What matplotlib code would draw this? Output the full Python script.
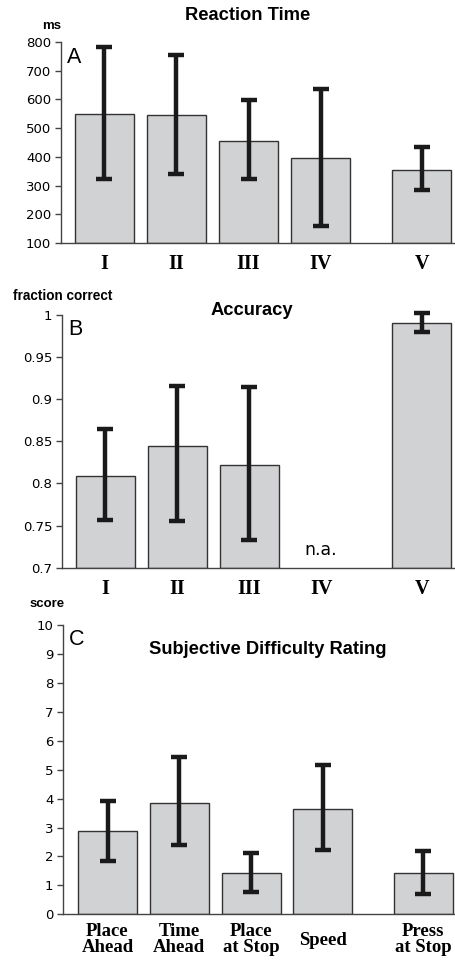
import matplotlib
matplotlib.use("Agg")
import matplotlib.pyplot as plt
import matplotlib.transforms as mtransforms
import numpy as np

# Panel A: Reaction Time
rt_labels = ["I", "II", "III", "IV", "V"]
rt_pos = [0, 1, 2, 3, 4.4]
rt_mean = [548, 545, 455, 397, 353]
rt_err_top = [782, 754, 598, 637, 433]
rt_err_bot = [322, 342, 322, 160, 283]

# Panel B: Accuracy (IV not available)
acc_labels = ["I", "II", "III", "IV", "V"]
acc_pos = [0, 1, 2, 4.4]
acc_tick_pos = [0, 1, 2, 3, 4.4]
acc_mean = [0.809, 0.845, 0.822, 0.990]
acc_err_top = [0.865, 0.916, 0.914, 1.002]
acc_err_bot = [0.757, 0.756, 0.733, 0.980]

# Panel C: Subjective Difficulty Rating
sd_labels = ["Place\nAhead", "Time\nAhead", "Place\nat Stop", "Speed", "Press\nat Stop"]
sd_pos = [0, 1, 2, 3, 4.4]
sd_mean = [2.88, 3.84, 1.44, 3.63, 1.44]
sd_err_top = [3.92, 5.42, 2.13, 5.15, 2.20]
sd_err_bot = [1.85, 2.38, 0.77, 2.21, 0.71]

W, H = 455, 960
fig = plt.figure(figsize=(W / 100, H / 100), dpi=100)

BAR = "#d1d2d4"
EDGE = "#333333"
serif = ["Liberation Serif", "DejaVu Serif"]
sans = ["Liberation Sans", "DejaVu Sans"]

def style(ax):
    ax.spines["top"].set_visible(False)
    ax.spines["right"].set_visible(False)
    ax.spines["left"].set_color("#444444")
    ax.spines["bottom"].set_color("#444444")
    ax.spines["left"].set_linewidth(1.0)
    ax.spines["bottom"].set_linewidth(1.0)
    ax.tick_params(axis="y", direction="out", length=4, width=1, labelsize=9.5, pad=3, color="#444444")
    ax.tick_params(axis="x", length=0, pad=8)
    for t in ax.get_yticklabels():
        t.set_family("DejaVu Sans")

def draw(ax, pos, mean, top, bot, bottom):
    mean = np.array(mean); top = np.array(top); bot = np.array(bot)
    heights = mean - bottom
    ax.bar(pos, heights, bottom=bottom, width=0.82, color=BAR, edgecolor=EDGE, linewidth=1.0, zorder=2)
    eb = ax.errorbar(pos, mean, yerr=[mean - bot, top - mean], fmt="none", ecolor="#1a1a1a",
                     elinewidth=3.2, capsize=6, capthick=3.2, zorder=3)
    for art in eb.lines[1] + eb.lines[2]:
        art.set_clip_on(False)

def px_axes(l, b, t):
    return fig.add_axes([l / W, 1 - b / H, 1 - l / W, (b - t) / H])

TFS = 13.2

# A
axA = px_axes(61, 243, 42)
draw(axA, rt_pos, rt_mean, rt_err_top, rt_err_bot, 100)
axA.set_ylim(100, 800)
axA.set_yticks(range(100, 801, 100))
axA.set_xlim(-0.6, 4.86)
axA.set_xticks(rt_pos)
axA.set_xticklabels(rt_labels, family=serif, fontsize=14.5, fontweight="bold")
style(axA)
axA.text(0.015, 0.975, "A", transform=axA.transAxes, fontsize=15.5, va="top", ha="left", family=sans)
fig.text(248 / W, 1 - 16 / H, "Reaction Time", ha="center", va="center", fontsize=TFS, fontweight="bold", family=sans)
fig.text(52 / W, 1 - 26 / H, "ms", ha="center", va="center", fontsize=9.5, fontweight="bold", family=sans)

# B
axB = px_axes(62, 567.7, 315)
draw(axB, acc_pos, acc_mean, acc_err_top, acc_err_bot, 0.7)
axB.set_ylim(0.7, 1.0)
axB.set_yticks([0.7, 0.75, 0.8, 0.85, 0.9, 0.95, 1.0])
axB.set_yticklabels(["0.7", "0.75", "0.8", "0.85", "0.9", "0.95", "1"])
axB.set_xlim(-0.6, 4.86)
axB.set_xticks(acc_tick_pos)
axB.set_xticklabels(acc_labels, family=serif, fontsize=14.5, fontweight="bold")
style(axB)
axB.text(3, 0.721, "n.a.", ha="center", va="center", fontsize=12.5, family="DejaVu Sans")
axB.text(0.015, 0.985, "B", transform=axB.transAxes, fontsize=15.5, va="top", ha="left", family=sans)
fig.text(252 / W, 1 - 310 / H, "Accuracy", ha="center", va="center", fontsize=TFS, fontweight="bold", family=sans)
fig.text(13 / W, 1 - 296 / H, "fraction correct", ha="left", va="center", fontsize=9.8, fontweight="bold", family=sans)

# C
axC = px_axes(63, 914.3, 625)
draw(axC, sd_pos, sd_mean, sd_err_top, sd_err_bot, 0)
axC.set_ylim(0, 10)
axC.set_yticks(range(0, 11))
axC.set_xlim(-0.62, 4.84)
axC.set_xticks(sd_pos)
axC.set_xticklabels(sd_labels, family=serif, fontsize=13.5, fontweight="bold", linespacing=0.95)
style(axC)
axC.tick_params(axis="x", pad=6)
# single-line label sits vertically centred between the two-line labels
for lab in axC.get_xticklabels():
    if "\n" not in lab.get_text():
        lab.set_transform(lab.get_transform() + mtransforms.ScaledTranslation(0, -0.09, fig.dpi_scale_trans))
axC.text(0.015, 0.985, "C", transform=axC.transAxes, fontsize=15.5, va="top", ha="left", family=sans)
fig.text(268 / W, 1 - 649 / H, "Subjective Difficulty Rating", ha="center", va="center", fontsize=TFS, fontweight="bold", family=sans)
fig.text(47 / W, 1 - 604 / H, "score", ha="center", va="center", fontsize=9.5, fontweight="bold", family=sans)

fig.savefig("out.png", dpi=100)
